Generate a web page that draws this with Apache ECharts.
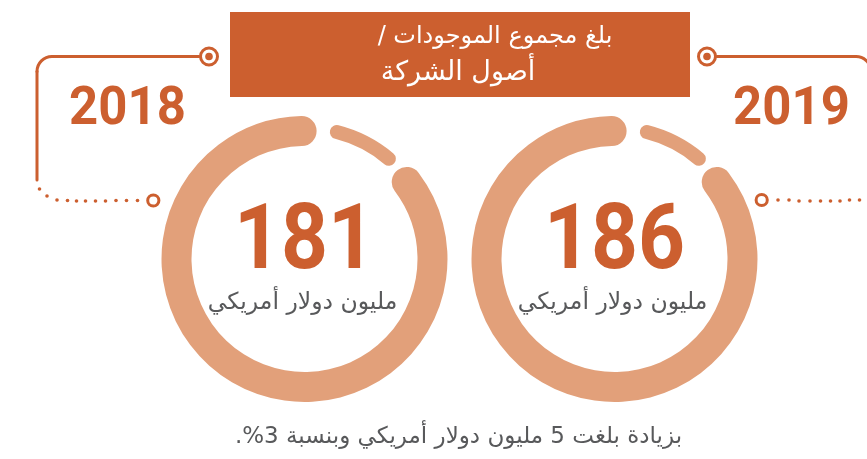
<!DOCTYPE html>
<html>
<head>
<meta charset="utf-8">
<script src="https://cdn.jsdelivr.net/npm/echarts@6/dist/echarts.min.js"></script>
<style>
html,body{margin:0;padding:0;background:#fff;}
#chart{width:867px;height:459px;}
</style>
</head>
<body>
<div id="chart"></div>
<script>
// ---- data ----
const years = ['2018', '2019'];
const values = [181, 186];
const unitLabel = 'مليون دولار أمريكي';
const titleLines = ['بلغ مجموع الموجودات /', 'أصول الشركة'];
const footnote = 'بزيادة بلغت 5 مليون دولار أمريكي وبنسبة 3%.';
// ring arcs (degrees clockwise from 12 o'clock): start angle and sweep
const mainArcStart = [53, 53];
const mainArcSweep = [305.7, 305.7];
const accentArcStart = [14.3, 14.3];
const accentArcSweep = [25.8, 25.8];

// ---- layout / style ----
const ORANGE = '#CC5F2F';
const RING = '#E2A07A';
const GREY = '#58595B';
const AR_FONT = "'DejaVu Sans', sans-serif";
const NUM_FONT = "Roboto, 'DejaVu Sans', sans-serif";
const ringCenters = [[304.5, 259], [614.5, 259]];
const RLE = '\u202B', PDF = '\u202C';

function arcSeries(center, start, sweep, radius, width) {
  const sa = 90 - start;
  return {
    type: 'gauge',
    center: center,
    radius: radius,
    startAngle: sa,
    endAngle: sa - 360,
    clockwise: true,
    min: 0,
    max: 360,
    silent: true,
    animation: false,
    progress: { show: true, overlap: true, width: width, roundCap: true, itemStyle: { color: RING } },
    axisLine: { show: false },
    axisTick: { show: false },
    splitLine: { show: false },
    axisLabel: { show: false },
    pointer: { show: false },
    anchor: { show: false },
    title: { show: false },
    detail: { show: false },
    data: [{ value: sweep }]
  };
}

const series = [];
years.forEach((y, i) => {
  series.push(arcSeries(ringCenters[i], mainArcStart[i], mainArcSweep[i], 143, 30));
  series.push(arcSeries(ringCenters[i], accentArcStart[i], accentArcSweep[i], 138, 14));
});

const graphic = [];
// title box
graphic.push({ type: 'rect', shape: { x: 230, y: 12, width: 460, height: 85 }, style: { fill: ORANGE }, silent: true });
graphic.push({ type: 'text', x: 495, y: 37, style: { text: RLE + titleLines[0] + PDF, fill: '#fff', font: '24px ' + AR_FONT, align: 'center', verticalAlign: 'middle' } });
graphic.push({ type: 'text', x: 458, y: 73, style: { text: RLE + titleLines[1] + PDF, fill: '#fff', font: '27px ' + AR_FONT, align: 'center', verticalAlign: 'middle' } });

// decorative connectors
const lineStyle = { stroke: ORANGE, lineWidth: 3, fill: null, lineCap: 'round' };
graphic.push({ type: 'line', shape: { x1: 199, y1: 56.5, x2: 52, y2: 56.5 }, style: lineStyle });
graphic.push({ type: 'arc', shape: { cx: 52, cy: 71.5, r: 15, startAngle: Math.PI, endAngle: Math.PI * 1.5, clockwise: true }, style: lineStyle });
graphic.push({ type: 'line', shape: { x1: 37, y1: 71.5, x2: 37, y2: 180 }, style: lineStyle });
graphic.push({ type: 'line', shape: { x1: 717, y1: 56.5, x2: 856, y2: 56.5 }, style: lineStyle });
graphic.push({ type: 'arc', shape: { cx: 856, cy: 71.5, r: 15, startAngle: Math.PI * 1.5, endAngle: Math.PI * 2, clockwise: true }, style: lineStyle });
graphic.push({ type: 'line', shape: { x1: 871, y1: 71.5, x2: 871, y2: 180 }, style: lineStyle });
[[209, 56.5], [707, 56.5]].forEach(p => {
  graphic.push({ type: 'circle', shape: { cx: p[0], cy: p[1], r: 8.5 }, style: { stroke: ORANGE, lineWidth: 3, fill: '#fff' } });
  graphic.push({ type: 'circle', shape: { cx: p[0], cy: p[1], r: 3.8 }, style: { fill: ORANGE } });
});
[[153.3, 200.5], [761.7, 200]].forEach(p => {
  graphic.push({ type: 'circle', shape: { cx: p[0], cy: p[1], r: 5.6 }, style: { stroke: ORANGE, lineWidth: 3, fill: '#fff' } });
});
const leftDots = [[39.5, 189], [47, 196], [57, 200], [67.5, 200.5], [76.5, 201], [85.5, 201], [95.5, 201], [105.5, 201], [116, 200.5], [126.5, 200.5], [137.5, 200.5]];
const rightDots = [[778, 200], [789, 200], [799, 201], [810, 201], [820.5, 201], [830.5, 201], [840, 201], [849.5, 200], [859.5, 200], [869, 200]];
leftDots.concat(rightDots).forEach(p => {
  graphic.push({ type: 'circle', shape: { cx: p[0], cy: p[1], r: 1.8 }, style: { fill: ORANGE } });
});

// year labels
const yearPos = [[127.5, 111], [791.5, 111]];
years.forEach((y, i) => {
  graphic.push({ type: 'text', x: yearPos[i][0], y: yearPos[i][1], scaleX: 0.96, style: { text: y, fill: ORANGE, font: 'bold 53px ' + NUM_FONT, align: 'center', verticalAlign: 'middle' } });
});
// values & units inside rings
values.forEach((v, i) => {
  const c = ringCenters[i];
  graphic.push({ type: 'text', x: c[0], y: 245, scaleX: 0.9, style: { text: String(v), fill: ORANGE, font: 'bold 91px ' + NUM_FONT, align: 'center', verticalAlign: 'middle' } });
  graphic.push({ type: 'text', x: c[0] - 2, y: 303, style: { text: RLE + unitLabel + PDF, fill: GREY, font: '23.5px ' + AR_FONT, align: 'center', verticalAlign: 'middle' } });
});
// footnote
graphic.push({ type: 'text', x: 458.5, y: 437, style: { text: RLE + footnote + PDF, fill: GREY, font: '23px ' + AR_FONT, align: 'center', verticalAlign: 'middle' } });

const chart = echarts.init(document.getElementById('chart'), null, { renderer: 'canvas' });
chart.setOption({
  backgroundColor: '#fff',
  animation: false,
  series: series,
  graphic: graphic
});
</script>
</body>
</html>
